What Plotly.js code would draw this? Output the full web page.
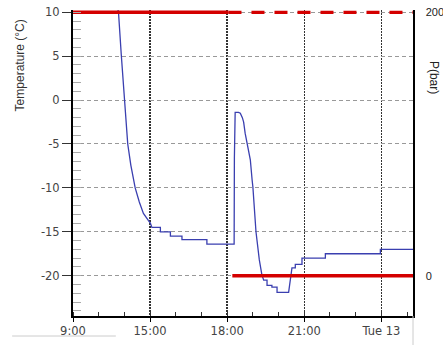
<!DOCTYPE html>
<html>
<head>
<meta charset="utf-8">
<script src="https://cdn.plot.ly/plotly-3.0.1.min.js"></script>
<style>
html,body{margin:0;padding:0;background:#fff;}
#chart{width:443px;height:345px;}
</style>
</head>
<body>
<div id="chart"></div>
<script>
// Temperature series (x in hours since midnight of day 1)
var tempHours = [13.70, 13.77, 13.88, 14.02, 14.10, 14.13, 14.25, 14.42, 14.58, 14.74, 14.93, 15.01, 15.07,
  15.40, 15.40, 15.79, 15.79, 16.24, 16.24, 17.21, 17.21, 18.27, 18.28, 18.31, 18.44, 18.51, 18.59, 18.64,
  18.70, 18.79, 18.90, 18.97, 19.00, 19.12, 19.25, 19.35, 19.42, 19.55, 19.55, 19.74, 19.74, 19.94, 19.94,
  20.39, 20.46, 20.52, 20.65, 20.65, 20.91, 20.91, 21.82, 21.82, 23.96, 23.96, 25.23];
var tempValues = [11.0, 10.0, 5.1, 0.0, -3.4, -5.0, -7.4, -10.0, -11.6, -12.9, -13.7, -14.0, -14.5,
  -14.5, -15.0, -15.0, -15.5, -15.5, -15.9, -15.9, -16.4, -16.4, -6.6, -1.4, -1.4, -1.5, -2.0, -2.5,
  -3.8, -5.0, -6.8, -9.1, -9.9, -15.0, -18.2, -19.9, -20.5, -20.5, -21.1, -21.1, -21.3, -21.3, -21.9,
  -21.9, -20.5, -19.1, -19.1, -18.7, -18.7, -18.0, -18.0, -17.5, -17.5, -17.0, -17.0];

// Pressure series (bar)
var pressHoursA = [12.0, 18.05];
var pressValuesA = [200, 200];
var pressHoursB = [18.05, 25.23];
var pressValuesB = [200, 200];
var pressHoursC = [18.2, 25.23];
var pressValuesC = [0, 0];

// Tick labels
var xTickVals = [12, 15, 18, 21, 24];
var xTickText = ["9:00", "15:00", "18:00", "21:00", "Tue 13"];
var yTickVals = [-20, -15, -10, -5, 0, 5, 10];
var yTickText = ["-20", "-15", "-10", "-5", "0", "5", "10"];
var y2TickVals = [0, 200];
var y2TickText = ["0", "200"];

var blue = "#3a3fb0";
var red = "#d40000";

var traces = [
  {x: tempHours, y: tempValues, type: "scatter", mode: "lines", yaxis: "y",
   line: {color: blue, width: 1.3, shape: "linear"}, hoverinfo: "skip"},
  {x: pressHoursA, y: pressValuesA, type: "scatter", mode: "lines", yaxis: "y2",
   line: {color: red, width: 3.5}, hoverinfo: "skip"},
  {x: pressHoursB, y: pressValuesB, type: "scatter", mode: "lines", yaxis: "y2",
   line: {color: red, width: 3.2, dash: "13px,10px"}, hoverinfo: "skip"},
  {x: pressHoursC, y: pressValuesC, type: "scatter", mode: "lines", yaxis: "y2",
   line: {color: red, width: 3.5}, hoverinfo: "skip"}
];

var tickFont = {family: "DejaVu Sans, Liberation Sans, sans-serif", size: 11.5, color: "#444"};

var layout = {
  width: 443, height: 345,
  margin: {l: 73, r: 30, t: 10, b: 29, pad: 0},
  paper_bgcolor: "#fff", plot_bgcolor: "#fff",
  showlegend: false,
  xaxis: {
    range: [12, 25.23], tickmode: "array", tickvals: xTickVals, ticktext: xTickText,
    showline: true, linecolor: "#000", linewidth: 1.5,
    ticks: "outside", ticklen: 4, tickcolor: "#000", tickwidth: 1,
    showgrid: true, gridcolor: "#333", gridwidth: 1.5, griddash: "1.5px,1.5px",
    zeroline: false, tickfont: tickFont,
    minor: {tickmode: "linear", tick0: 12, dtick: 1, ticks: "inside", ticklen: 4, tickcolor: "#333", showgrid: false}
  },
  yaxis: {
    range: [-24.59, 10.26], tickmode: "array", tickvals: yTickVals, ticktext: yTickText,
    showline: true, linecolor: "#000", linewidth: 2,
    ticks: "outside", ticklen: 9, tickcolor: "#333", tickwidth: 1,
    showgrid: true, gridcolor: "#999", gridwidth: 1, griddash: "4px,3px",
    zeroline: false, tickfont: tickFont,
    minor: {tickmode: "linear", tick0: 0, dtick: 1, ticks: "inside", ticklen: 8, tickcolor: "#aaa", showgrid: false}
  },
  yaxis2: {
    overlaying: "y", side: "right", range: [-30.6, 201.73],
    tickmode: "array", tickvals: y2TickVals, ticktext: y2TickText,
    showline: true, linecolor: "#000", linewidth: 1.5,
    ticks: "", showgrid: false, zeroline: false, ticklabelstandoff: 9,
    tickfont: {family: "Liberation Sans, Arial, sans-serif", size: 11, color: "#222"}
  },
  annotations: [
    {text: "Temperature (°C)", xref: "paper", yref: "paper", x: -0.155, y: 0.82,
     textangle: -90, showarrow: false, xanchor: "center", yanchor: "middle",
     font: {family: "Liberation Sans, Arial, sans-serif", size: 12, color: "#333"}},
    {text: "P(bar)", xref: "paper", yref: "paper", x: 1.062, y: 0.781,
     textangle: 90, showarrow: false, xanchor: "center", yanchor: "middle",
     font: {family: "Liberation Sans, Arial, sans-serif", size: 12, color: "#222"}}
  ],
  shapes: [
    {type: "line", xref: "paper", yref: "paper", x0: -0.179, x1: 0.126, y0: -0.0654, y1: -0.0654,
     line: {color: "#ccc", width: 1}},
    {type: "line", xref: "paper", yref: "paper", x0: 1.0, x1: 1.0, y0: 0, y1: -0.095,
     line: {color: "#ccc", width: 1}}
  ]
};

Plotly.newPlot("chart", traces, layout, {displayModeBar: false, staticPlot: true});
</script>
</body>
</html>
